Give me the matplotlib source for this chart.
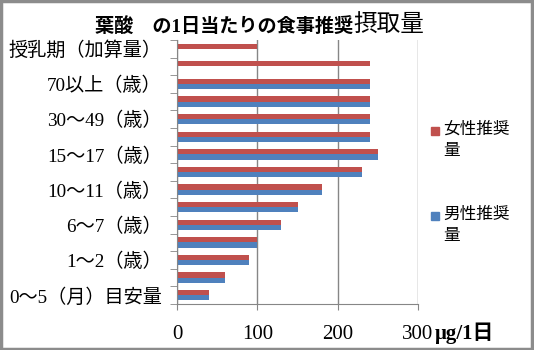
import matplotlib
matplotlib.use("Agg")
import matplotlib.pyplot as plt
from matplotlib.patches import Rectangle
import numpy as np

# categories, bottom to top (every other one is labelled on the axis)
categories = ["0～5（月）目安量", "6～11（月）", "1～2（歳）", "3～5（歳）", "6～7（歳）",
              "8～9（歳）", "10～11（歳）", "12～14（歳）", "15～17（歳）", "18～29（歳）",
              "30～49（歳）", "50～69（歳）", "70以上（歳）", "妊婦（付加量）", "授乳期（加算量）"]
male = [40, 60, 90, 100, 130, 150, 180, 230, 250, 240, 240, 240, 240, 0, 0]
female = [40, 60, 90, 100, 130, 150, 180, 230, 250, 240, 240, 240, 240, 240, 100]
xticks = [0, 100, 200, 300]

red = "#C0504D"
blue = "#4F81BD"
grid_c = "#868686"
jp = ["Liberation Serif", "Noto Sans CJK JP"]
plt.rcParams["font.family"] = ["Noto Sans CJK JP", "DejaVu Sans"]

W, H = 534, 350
fig = plt.figure(figsize=(W / 100, H / 100), dpi=100)
ax = fig.add_axes([177 / W, 1 - 304 / H, (418 - 177) / W, (304 - 40) / H])

y = np.arange(len(categories))
h = 0.295
ax.barh(y - h / 2, male, height=h, color=blue, label="男性推奨量")
ax.barh(y + h / 2, female, height=h, color=red, label="女性推奨量")

ax.set_xlim(0, 300)
ax.set_ylim(-0.5, len(categories) - 0.5)
ax.set_xticks(xticks)
ax.set_xticklabels([str(v) for v in xticks], family="Liberation Serif", fontsize=15)
ax.tick_params(axis="x", length=4, color=grid_c, pad=11)
ax.xaxis.grid(True, color=grid_c, linewidth=1)
ax.set_axisbelow(True)

ax.set_yticks(y)
ax.set_yticklabels([c if i % 2 == 0 else "" for i, c in enumerate(categories)],
                   family=jp, fontsize=13.8)
ax.tick_params(axis="y", length=0, pad=11)
ax.set_yticks(np.arange(-0.5, len(categories)), minor=True)
ax.tick_params(axis="y", which="minor", length=5, color=grid_c)

for s in ["top", "right"]:
    ax.spines[s].set_visible(False)
for s in ["left", "bottom"]:
    ax.spines[s].set_color(grid_c)

# title
fig.text(353 / W, 1 - 32 / H, "葉酸　の1日当たりの食事推奨", ha="right", va="baseline",
         fontsize=13.8, fontweight="bold", family=jp)
fig.text(353 / W, 1 - 32 / H, "摂取量", ha="left", va="baseline", fontsize=17, family=jp)

# unit
fig.text(435 / W, 1 - 339 / H, "μg/1日", ha="left", va="baseline", fontsize=15,
         fontweight="bold", family=jp)

# legend
for col, lab, ty in [(red, "女性推奨\n量", 131), (blue, "男性推奨\n量", 216)]:
    fig.add_artist(Rectangle((431 / W, 1 - (ty + 4) / H), 8 / W, 8 / H,
                             transform=fig.transFigure, color=col))
    fig.text(443 / W, 1 - (ty + 9) / H, lab, ha="left", va="center", fontsize=12,
             linespacing=1.35, family=["Noto Sans CJK JP"])

# outer frame
fig.add_artist(Rectangle((0.002, 0.003), 0.995, 0.993, transform=fig.transFigure,
                         fill=False, edgecolor="#8c8c8c", linewidth=2.5))

fig.savefig("out.png", dpi=100)
